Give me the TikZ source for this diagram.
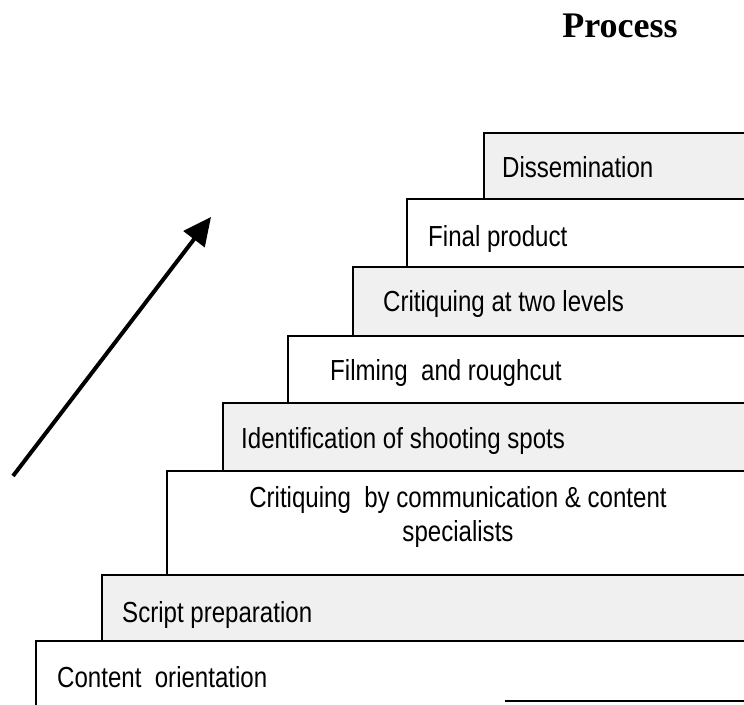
\documentclass[tikz,border=0pt]{standalone}
\usepackage{fontspec}
\setmainfont{Liberation Sans}
\newfontfamily\stepfont[FakeStretch=0.83]{Liberation Sans}
\newfontfamily\titlefont{Liberation Serif}
\usetikzlibrary{arrows.meta}

\tikzset{
  stepbox/.style={draw=black, line width=1.8pt, fill=white},
  greybox/.style={stepbox, fill=gray!12},
  steplabel/.style={anchor=base west, inner sep=0pt, font=\stepfont\fontsize{29}{30}\selectfont},
}

\begin{document}
\begin{tikzpicture}[x=1pt, y=-1pt]
  \useasboundingbox (0,0) rectangle (744,704);
  \clip (0,0) rectangle (744,704);
  % the steps, top to bottom
  \foreach \l/\t/\b/\s in {484/133/199/greybox, 407/199/267/stepbox,
      353/267/336/greybox, 288/336/403/stepbox, 223/403/471/greybox,
      167/471/575/stepbox, 102/575/641/greybox, 36/641/712/stepbox}
    \draw[\s] (\l,\t) rectangle (760,\b);
  \draw[line width=1.8pt] (505,701) -- (760,701);

  \node[steplabel] (dissem) at (502,177) {Dissemination};
  \node[steplabel] (final) at (428,246) {Final product};
  \node[steplabel] (twolevels) at (383,311) {Critiquing at two levels};
  \node[steplabel] (filming) at (330,380) {Filming\ \ and roughcut};
  \node[steplabel] (spots) at (241,448) {Identification of shooting spots};
  \node[steplabel, anchor=north, align=center, font=\stepfont\fontsize{29}{34}\selectfont]
    (specialists) at (458,486)
    {Critiquing\ \ by communication \& content\\specialists};
  \node[steplabel] (script) at (122,622) {Script preparation};
  \node[steplabel] (orient) at (57,687) {Content\ \ orientation};

  \node[anchor=base, inner sep=0pt, font=\titlefont\bfseries\fontsize{36}{40}\selectfont] (title) at (620,37) {Process};

  \coordinate (arrowtail) at (13,476);
  \coordinate (arrowtip) at (211,217);
  \draw[line width=4pt, -{Triangle[length=28pt, width=26pt]}] (arrowtail) -- (arrowtip);
\end{tikzpicture}
\end{document}
